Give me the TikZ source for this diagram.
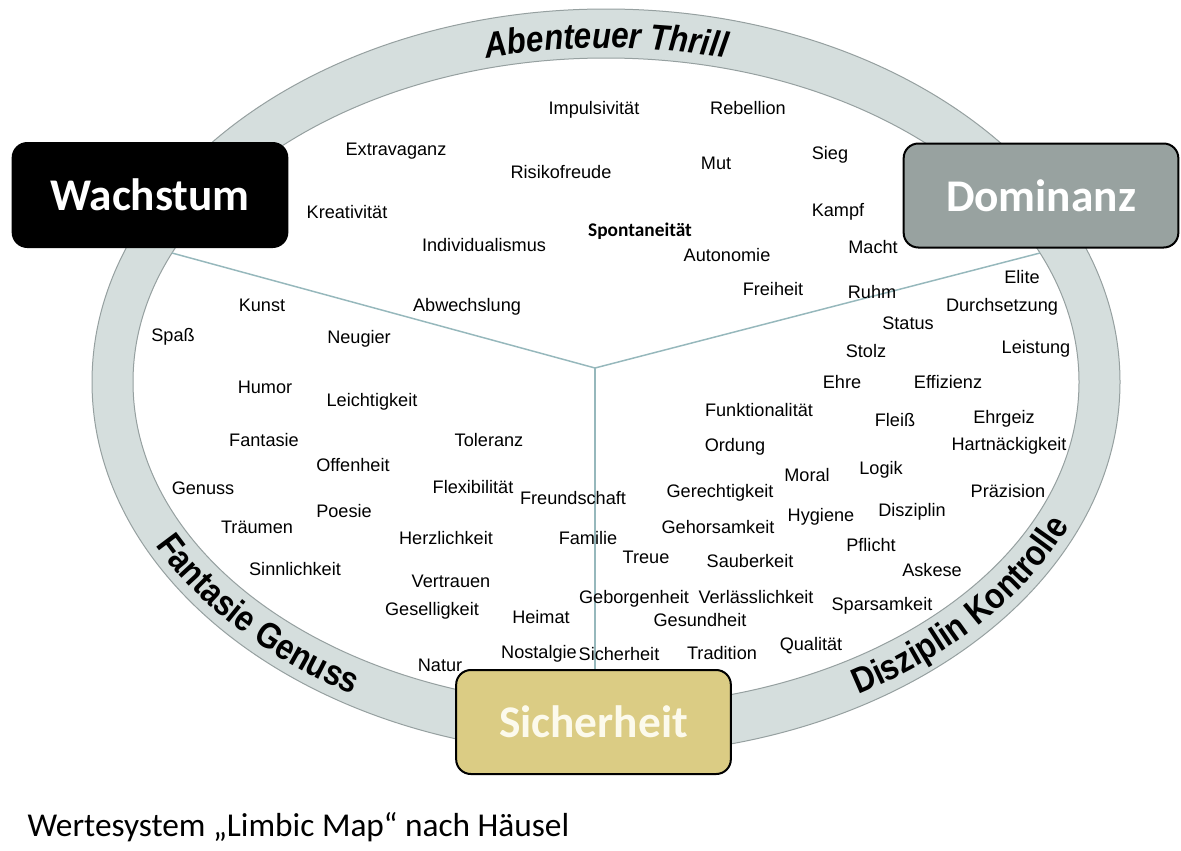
\documentclass[tikz,border=0pt]{standalone}
\usepackage{fontspec}
\setmainfont{Liberation Sans}
\newfontfamily\calfont{Carlito}
\newfontfamily\ringfont[FakeStretch=0.87]{Liberation Sans}
\usetikzlibrary{decorations.text}

\newcommand\ringstyle{\ringfont\bfseries\fontsize{27}{30}\selectfont}

\tikzset{every picture/.style={line width=0.75pt}}
\tikzset{
wort/.style={font=\fontsize{13.6}{16}\selectfont, inner sep=0pt, text height=9.75pt, text depth=0pt},
kasten/.style={draw=black, line width=1.5pt, rounded corners=11pt, minimum width=206pt, minimum height=78pt, text=white, font=\calfont\bfseries\fontsize{34}{40}\selectfont},
ring/.style={fill={rgb, 255:red, 213; green, 222; blue, 221}, draw={rgb, 255:red, 150; green, 160; blue, 160}, line width=0.75pt},
teiler/.style={draw={rgb, 255:red, 150; green, 184; blue, 188}, line width=1.1pt}
}

\begin{document}
\begin{tikzpicture}[x=0.75pt,y=0.75pt,yscale=-1,xscale=1]
\fill[white] (0,0) rectangle (1181,850);
\useasboundingbox (0,0) rectangle (1181,850);

%Shape: Ring
\path[ring, even odd rule] (606,382) ellipse [x radius=514, y radius=373] (606,382) ellipse [x radius=473, y radius=324];

%Curved Text (scope flips y back up)
\begin{scope}[yscale=-1]
\path[decorate, decoration={text along path, text align=center, text={|\ringstyle\itshape|Abenteuer Thrill}}] (606,-382) ++(125:482 and 334) arc [start angle=125, end angle=55, x radius=482, y radius=334];
\path[decorate, decoration={text along path, text align=center, text={|\ringstyle|Fantasie Genuss}}] (606,-382) ++(186:505 and 361) arc [start angle=186, end angle=256, x radius=505, y radius=361];
\path[decorate, decoration={text along path, text align=center, text={|\ringstyle|Disziplin Kontrolle}}] (606,-382) ++(291:505 and 361) arc [start angle=291, end angle=348, x radius=505, y radius=361];
\end{scope}

%Straight Lines
\coordinate (hub) at (595,368);
\coordinate (links) at (172,253);
\coordinate (rechts) at (1040,253);

%Shape: Boxes
\node[kasten, fill=black] (wachstum) at (150,195) {Wachstum};
\node[kasten, fill={rgb, 255:red, 152; green, 162; blue, 160}] (dominanz) at (1041,195.5) {Dominanz};
\node[kasten, fill={rgb, 255:red, 219; green, 204; blue, 132}, text={rgb, 255:red, 252; green, 250; blue, 236}] (sicher) at (593.5,722) {Sicherheit};

\draw[teiler] (links) -- (hub) -- (rechts);
\draw[teiler] (hub) -- (hub |- sicher.north);

% Text Nodes: Abenteuer / Thrill
\node[wort] (impuls) at (594,108) {Impulsivität};
\node[wort] (rebellion) at (748,108) {Rebellion};
\node[wort] (extravaganz) at (396,149) {Extravaganz};
\node[wort] (risiko) at (561,172) {Risikofreude};
\node[wort] (mut) at (716,163) {Mut};
\node[wort] (sieg) at (830,153) {Sieg};
\node[wort] (kreativ) at (347,212) {Kreativität};
\node[wort] (kampf) at (838,210) {Kampf};
\node[wort, font=\calfont\bfseries\fontsize{14.5}{17}\selectfont] (spontan) at (640,230) {Spontaneität};
\node[wort] (individ) at (484,245) {Individualismus};
\node[wort] (autonomie) at (727,255) {Autonomie};
\node[wort] (macht) at (873,247) {Macht};
\node[wort] (freiheit) at (773,289) {Freiheit};
\node[wort] (ruhm) at (872,292) {Ruhm};
\node[wort] (abwechslung) at (467,305) {Abwechslung};

% Text Nodes: Fantasie / Genuss
\node[wort] (kunst) at (262,305) {Kunst};
\node[wort] (spass) at (173,335) {Spaß};
\node[wort] (neugier) at (359,337) {Neugier};
\node[wort] (humor) at (265,387) {Humor};
\node[wort] (leicht) at (372,400) {Leichtigkeit};
\node[wort] (fantasie) at (264,440) {Fantasie};
\node[wort] (toleranz) at (489,440) {Toleranz};
\node[wort] (offenheit) at (353,465) {Offenheit};
\node[wort] (genuss) at (203,488) {Genuss};
\node[wort] (flexi) at (473,487) {Flexibilität};
\node[wort] (poesie) at (344,511) {Poesie};
\node[wort] (traeumen) at (257,527) {Träumen};
\node[wort] (herz) at (446,538) {Herzlichkeit};
\node[wort] (sinnlich) at (295,569) {Sinnlichkeit};
\node[wort] (vertrauen) at (451,581) {Vertrauen};
\node[wort] (gesellig) at (432,609) {Geselligkeit};
\node[wort] (heimat) at (541,617) {Heimat};
\node[wort] (nostalgie) at (539,652) {Nostalgie};
\node[wort] (natur) at (440,665) {Natur};

% Text Nodes: Sicherheit
\node[wort] (freundschaft) at (573,498) {Freundschaft};
\node[wort] (familie) at (588,538) {Familie};
\node[wort] (treue) at (646,557) {Treue};
\node[wort] (geborgen) at (634,597) {Geborgenheit};
\node[wort] (verlass) at (756,597) {Verlässlichkeit};
\node[wort] (gesund) at (700,620) {Gesundheit};
\node[wort] (sicherw) at (619,654) {Sicherheit};
\node[wort] (tradition) at (722,653) {Tradition};
\node[wort] (qualitaet) at (811,644) {Qualität};

% Text Nodes: Disziplin / Kontrolle
\node[wort] (gerecht) at (720,491) {Gerechtigkeit};
\node[wort] (gehorsam) at (718,527) {Gehorsamkeit};
\node[wort] (sauber) at (750,561) {Sauberkeit};
\node[wort] (moral) at (807,475) {Moral};
\node[wort] (hygiene) at (821,515) {Hygiene};
\node[wort] (logik) at (881,468) {Logik};
\node[wort] (disziplin) at (912,510) {Disziplin};
\node[wort] (pflicht) at (871,545) {Pflicht};
\node[wort] (askese) at (932,570) {Askese};
\node[wort] (sparsam) at (882,604) {Sparsamkeit};
\node[wort] (funktion) at (759,410) {Funktionalität};
\node[wort] (ordung) at (735,445) {Ordung};
\node[wort] (ehre) at (842,382) {Ehre};
\node[wort] (effizienz) at (948,382) {Effizienz};
\node[wort] (fleiss) at (895,420) {Fleiß};
\node[wort] (ehrgeiz) at (1004,417) {Ehrgeiz};
\node[wort] (hartnaeckig) at (1009,444) {Hartnäckigkeit};
\node[wort] (praezision) at (1008,491) {Präzision};

% Text Nodes: Dominanz
\node[wort] (stolz) at (866,351) {Stolz};
\node[wort] (status) at (908,323) {Status};
\node[wort] (leistung) at (1036,347) {Leistung};
\node[wort] (elite) at (1022,277) {Elite};
\node[wort] (durchsetzung) at (1002,305) {Durchsetzung};

% Text Node: caption
\node[anchor=base west, inner sep=0pt, font=\calfont\fontsize{25}{30}\selectfont] (titel) at (27,836) {Wertesystem „Limbic Map“ nach Häusel};

\end{tikzpicture}
\end{document}
